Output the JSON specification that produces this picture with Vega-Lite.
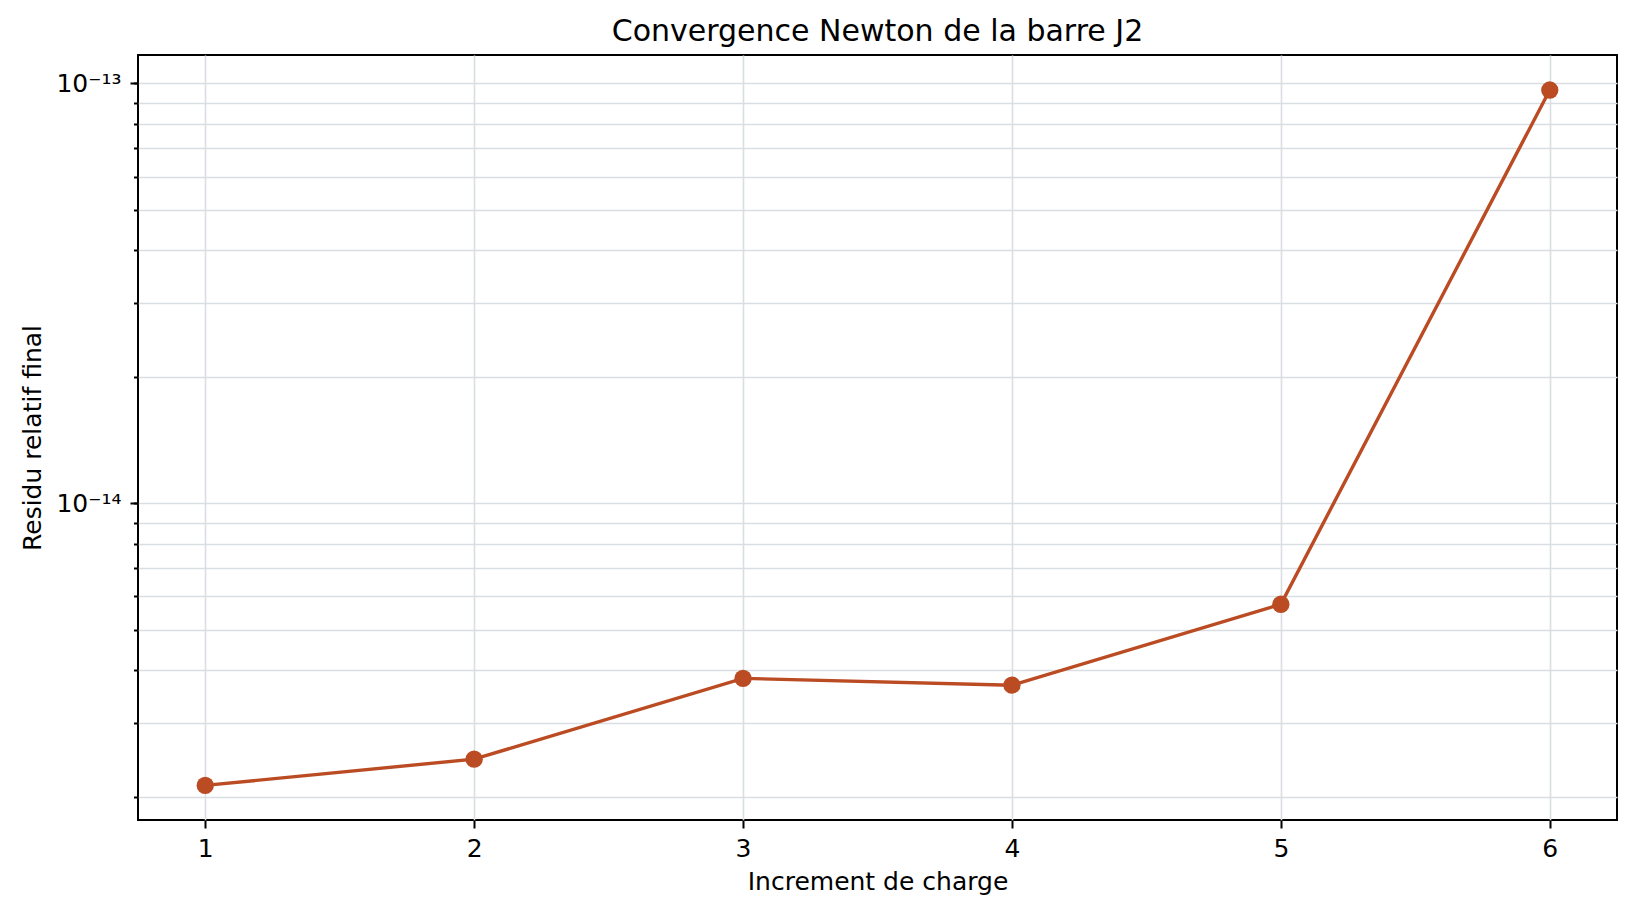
{
  "$schema": "https://vega.github.io/schema/vega-lite/v6.json",
  "autosize": {"type": "none"},
  "padding": {"left": 138, "top": 55, "right": 18, "bottom": 93},
  "width": 1479,
  "height": 765,
  "background": "white",
  "title": {
    "text": "Convergence Newton de la barre J2",
    "font": "DejaVu Sans",
    "fontSize": 30,
    "fontWeight": "normal",
    "color": "black",
    "anchor": "middle",
    "offset": 8
  },
  "config": {
    "font": "DejaVu Sans",
    "view": {"stroke": "black", "strokeWidth": 2},
    "axis": {
      "domain": false,
      "labelFont": "DejaVu Sans",
      "labelFontSize": 25,
      "labelColor": "black",
      "titleFont": "DejaVu Sans",
      "titleFontSize": 25,
      "titleFontWeight": "normal",
      "titleColor": "black",
      "tickColor": "black",
      "tickWidth": 2,
      "gridColor": "#d9dee2",
      "gridWidth": 1.6
    }
  },
  "data": {
    "values": [
      {"increment": 1, "residu": 2.13e-15},
      {"increment": 2, "residu": 2.46e-15},
      {"increment": 3, "residu": 3.83e-15},
      {"increment": 4, "residu": 3.69e-15},
      {"increment": 5, "residu": 5.75e-15},
      {"increment": 6, "residu": 9.64e-14}
    ]
  },
  "layer": [
    {
      "mark": {"type": "point", "opacity": 0},
      "encoding": {
        "x": {
          "field": "increment",
          "type": "quantitative",
          "scale": {"domain": [0.75, 6.25], "nice": false, "zero": false},
          "axis": {
            "values": [1, 2, 3, 4, 5, 6],
            "format": "d",
            "grid": true,
            "tickSize": 8,
            "labelPadding": 8,
            "titlePadding": 8,
            "title": "Increment de charge"
          }
        },
        "y": {
          "field": "residu",
          "type": "quantitative",
          "scale": {"type": "log", "domain": [1.762e-15, 1.168e-13], "nice": false},
          "axis": {
            "orient": "left",
            "values": [2e-15, 3e-15, 4e-15, 5e-15, 6e-15, 7e-15, 8e-15, 9e-15, 1e-14, 2e-14, 3e-14, 4e-14, 5e-14, 6e-14, 7e-14, 8e-14, 9e-14, 1e-13],
            "grid": true,
            "labels": false,
            "tickSize": 4.5,
            "title": null
          }
        }
      }
    },
    {
      "mark": {
        "type": "line",
        "color": "#bb4b22",
        "strokeWidth": 3.4,
        "point": {"filled": true, "size": 300, "color": "#bb4b22", "opacity": 1}
      },
      "encoding": {
        "x": {
          "field": "increment",
          "type": "quantitative",
          "axis": {
            "values": [1, 2, 3, 4, 5, 6],
            "format": "d",
            "grid": true,
            "tickSize": 8,
            "labelPadding": 8,
            "titlePadding": 8,
            "title": "Increment de charge"
          }
        },
        "y": {
          "field": "residu",
          "type": "quantitative",
          "axis": {
            "orient": "left",
            "values": [1e-14, 1e-13],
            "grid": false,
            "tickSize": 8,
            "labelPadding": 9,
            "titlePadding": 10,
            "labelExpr": "datum.value < 5e-14 ? '10⁻¹⁴' : '10⁻¹³'",
            "title": "Residu relatif final"
          }
        }
      }
    }
  ],
  "resolve": {"axis": {"y": "independent"}}
}
